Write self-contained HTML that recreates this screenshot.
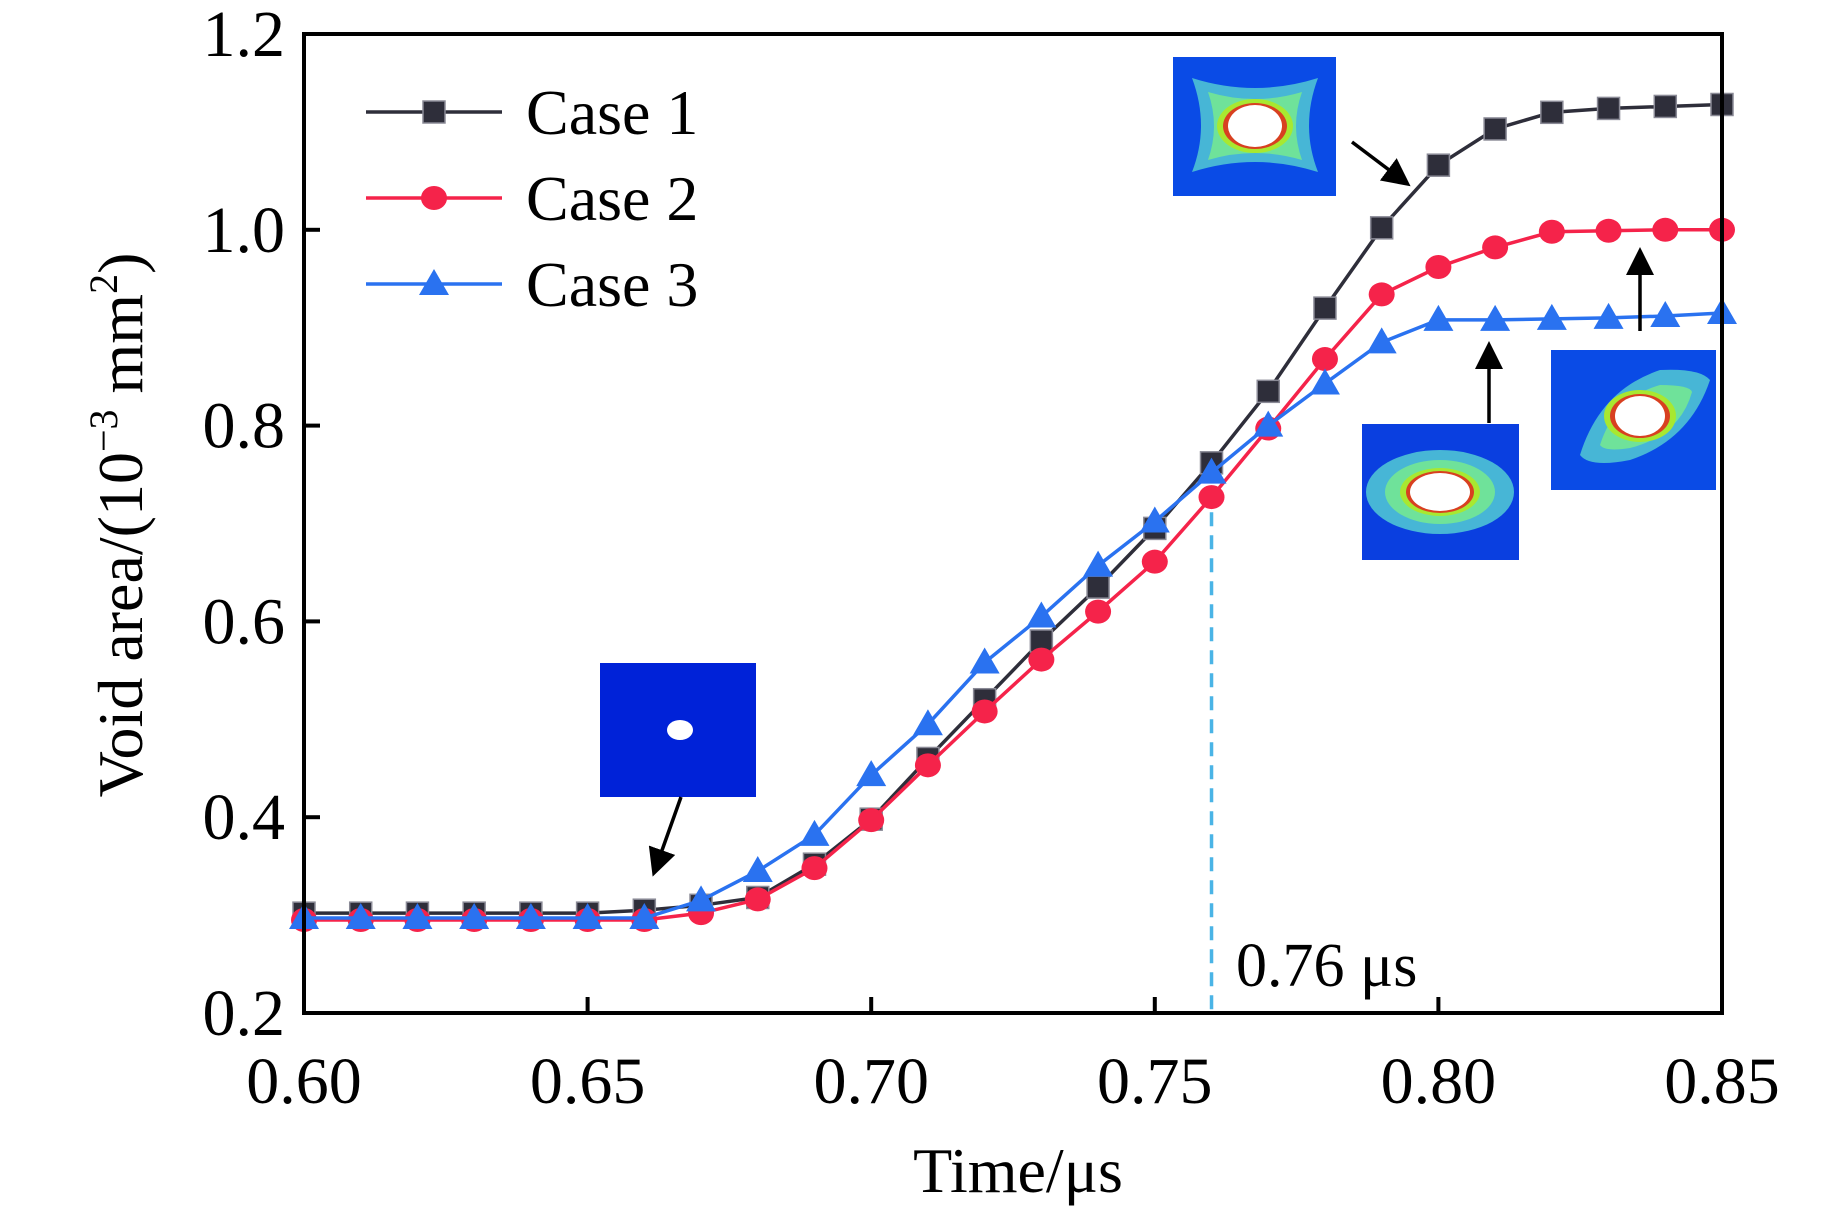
<!DOCTYPE html>
<html><head><meta charset="utf-8"><style>
html,body{margin:0;padding:0;background:#fff;}
svg{display:block;font-family:"Liberation Serif",serif;}
</style></head><body>
<svg id="chart" width="1843" height="1207" viewBox="0 0 1843 1207">
<g id="grid"></g>
<g id="insets">
  <g>
    <rect x="600" y="663" width="156" height="134" fill="#0022d8"/>
    <ellipse cx="680" cy="730" rx="13" ry="10" fill="#fff"/>
  </g>
  <g>
    <rect x="1173" y="57" width="163" height="139" fill="#0a4be6"/>
    <path d="M1192 78 Q1255 98 1318 78 Q1300 126 1318 172 Q1255 152 1192 172 Q1210 126 1192 78Z" fill="#47b6d6"/>
    <path d="M1208 92 Q1255 106 1302 92 Q1290 126 1302 160 Q1255 146 1208 160 Q1220 126 1208 92Z" fill="#6fe29a"/>
    <ellipse cx="1255" cy="126" rx="38" ry="27" fill="#a8e830"/>
    <ellipse cx="1255" cy="126" rx="32" ry="23" fill="#d84020"/>
    <ellipse cx="1255" cy="126" rx="27" ry="21" fill="#fff"/>
  </g>
  <g>
    <rect x="1362" y="424" width="157" height="136" fill="#0a3fe0"/>
    <ellipse cx="1440" cy="492" rx="74" ry="42" fill="#47b6d6"/>
    <ellipse cx="1440" cy="492" rx="55" ry="32" fill="#6fe29a"/>
    <ellipse cx="1440" cy="492" rx="40" ry="24" fill="#a8e830"/>
    <ellipse cx="1440" cy="492" rx="34" ry="21" fill="#d84020"/>
    <ellipse cx="1440" cy="492" rx="30" ry="19" fill="#fff"/>
  </g>
  <g>
    <rect x="1551" y="350" width="165" height="140" fill="#0a4be6"/>
    <path d="M1580 455 Q1600 390 1660 370 Q1700 368 1710 380 Q1690 440 1630 460 Q1590 468 1580 455Z" fill="#47b6d6"/>
    <path d="M1600 445 Q1615 398 1660 385 Q1690 385 1692 392 Q1680 435 1630 448 Q1605 452 1600 445Z" fill="#6fe29a"/>
    <ellipse cx="1640" cy="416" rx="36" ry="26" fill="#a8e830"/>
    <ellipse cx="1640" cy="416" rx="30" ry="22" fill="#d84020"/>
    <ellipse cx="1640" cy="416" rx="25" ry="20" fill="#fff"/>
  </g>
</g>
<g id="series"></g>
<g id="annot">
  <defs><marker id="ah" markerWidth="8" markerHeight="8" refX="6" refY="4" orient="auto"><path d="M0 0 L8 4 L0 8Z" fill="#000"/></marker></defs>
  <line x1="681" y1="797" x2="655" y2="870" stroke="#000" stroke-width="3.5" marker-end="url(#ah)"/>
  <line x1="1352" y1="142" x2="1405" y2="182" stroke="#000" stroke-width="3.5" marker-end="url(#ah)"/>
  <line x1="1489" y1="423" x2="1489" y2="348" stroke="#000" stroke-width="3.5" marker-end="url(#ah)"/>
  <line x1="1640" y1="331" x2="1640" y2="254" stroke="#000" stroke-width="3.5" marker-end="url(#ah)"/>
</g>
<g id="legend"></g>
<rect x="304" y="34" width="1418" height="979" fill="none" stroke="#000" stroke-width="4"/>
<text x="1236" y="986" font-size="62">0.76 μs</text>
<text x="1018" y="1192" font-size="64" text-anchor="middle">Time/μs</text>
<text transform="translate(142,525) rotate(-90)" font-size="64" text-anchor="middle">Void area/(10<tspan font-size="40" dy="-25">−3</tspan><tspan dy="25"> mm</tspan><tspan font-size="40" dy="-25">2</tspan><tspan dy="25">)</tspan></text>
</svg>
<script>
const times=[0.60,0.61,0.62,0.63,0.64,0.65,0.66,0.67,0.68,0.69,0.70,0.71,0.72,0.73,0.74,0.75,0.76,0.77,0.78,0.79,0.80,0.81,0.82,0.83,0.84,0.85];
const case1=[0.302,0.302,0.302,0.302,0.302,0.302,0.305,0.310,0.318,0.352,0.398,0.460,0.520,0.580,0.635,0.695,0.762,0.835,0.920,1.002,1.066,1.103,1.120,1.124,1.126,1.128];
const case2=[0.295,0.295,0.295,0.295,0.295,0.295,0.295,0.302,0.316,0.348,0.397,0.453,0.508,0.561,0.610,0.661,0.727,0.797,0.868,0.934,0.962,0.982,0.998,0.999,1.000,1.000];
const case3=[0.297,0.297,0.297,0.297,0.297,0.297,0.297,0.315,0.345,0.382,0.443,0.495,0.558,0.605,0.657,0.702,0.752,0.800,0.843,0.885,0.908,0.908,0.909,0.910,0.912,0.915];
const xTicks=[0.60,0.65,0.70,0.75,0.80,0.85];
const xTickLabels=["0.60","0.65","0.70","0.75","0.80","0.85"];
const yTicks=[0.2,0.4,0.6,0.8,1.0,1.2];
const yTickLabels=["0.2","0.4","0.6","0.8","1.0","1.2"];
const markTime=[0.76];
const markValue=[0.735];
const seriesNames=["Case 1","Case 2","Case 3"];

const NS="http://www.w3.org/2000/svg";
const X0=304,X1=1722,Y0=1013,Y1=34;
const xs=v=>X0+(v-0.60)/(0.85-0.60)*(X1-X0);
const ys=v=>Y0-(v-0.2)/(1.2-0.2)*(Y0-Y1);
function mk(t,a,p){const e=document.createElementNS(NS,t);for(const k in a)e.setAttribute(k,a[k]);p.appendChild(e);return e;}
const grid=document.getElementById('grid');
const ser=document.getElementById('series');
const leg=document.getElementById('legend');
const svg=document.getElementById('chart');

xTicks.forEach((t,i)=>{
  const x=xs(t);
  const l=mk('line',{x1:x,x2:x,y1:Y0,y2:Y0-16,stroke:'#000','stroke-width':4},svg);
  
  
  const tx=mk('text',{x:x,y:1103,'font-size':66,'text-anchor':'middle'},svg);
  tx.textContent=xTickLabels[i];
  
  
});
yTicks.forEach((t,i)=>{
  const y=ys(t);
  const l=mk('line',{x1:X0,x2:X0+16,y1:y,y2:y,stroke:'#000','stroke-width':4},svg);
  
  
  const tx=mk('text',{x:285,y:y+22,'font-size':66,'text-anchor':'end'},svg);
  tx.textContent=yTickLabels[i];
  
  
});
const dl=mk('line',{x1:xs(markTime[0]),x2:xs(markTime[0]),y1:ys(markValue[0]),y2:Y0,stroke:'#4ab4e6','stroke-width':3.5,'stroke-dasharray':'14 9'},grid);



const colors=['#2e2e3a','#f5234a','#2a72f0'];
function marker(kind,x,y,c,g){
  let e;
  if(kind===0){e=mk('rect',{x:x-11,y:y-11,width:22,height:22,fill:c,stroke:'#8a8a96','stroke-width':1.5},g);}
  else if(kind===1){e=mk('ellipse',{cx:x,cy:y,rx:13,ry:12,fill:c},g);}
  else {e=mk('path',{d:`M${x} ${y-15} L${x+15} ${y+11} L${x-15} ${y+11}Z`,fill:c},g);}
  return e;
}
[case1,case2,case3].forEach((data,si)=>{
  const g=mk('g',{},ser);
  
  
  const pl=mk('polyline',{points:data.map((v,i)=>xs(times[i])+','+ys(v)).join(' '),fill:'none',stroke:colors[si],'stroke-width':3.5},g);
  
  
  data.forEach((v,i)=>{
    const m=marker(si,xs(times[i]),ys(v),colors[si],g);
    
    
  });
  const ly=112+si*86;
  const lg=mk('g',{},leg);
  
  
  mk('line',{x1:366,x2:502,y1:ly,y2:ly,stroke:colors[si],'stroke-width':3.5},lg);
  marker(si,434,ly,colors[si],lg);
  const t=mk('text',{x:526,y:ly+22,'font-size':64},lg);
  t.textContent=seriesNames[si];
});
</script>
</body></html>
